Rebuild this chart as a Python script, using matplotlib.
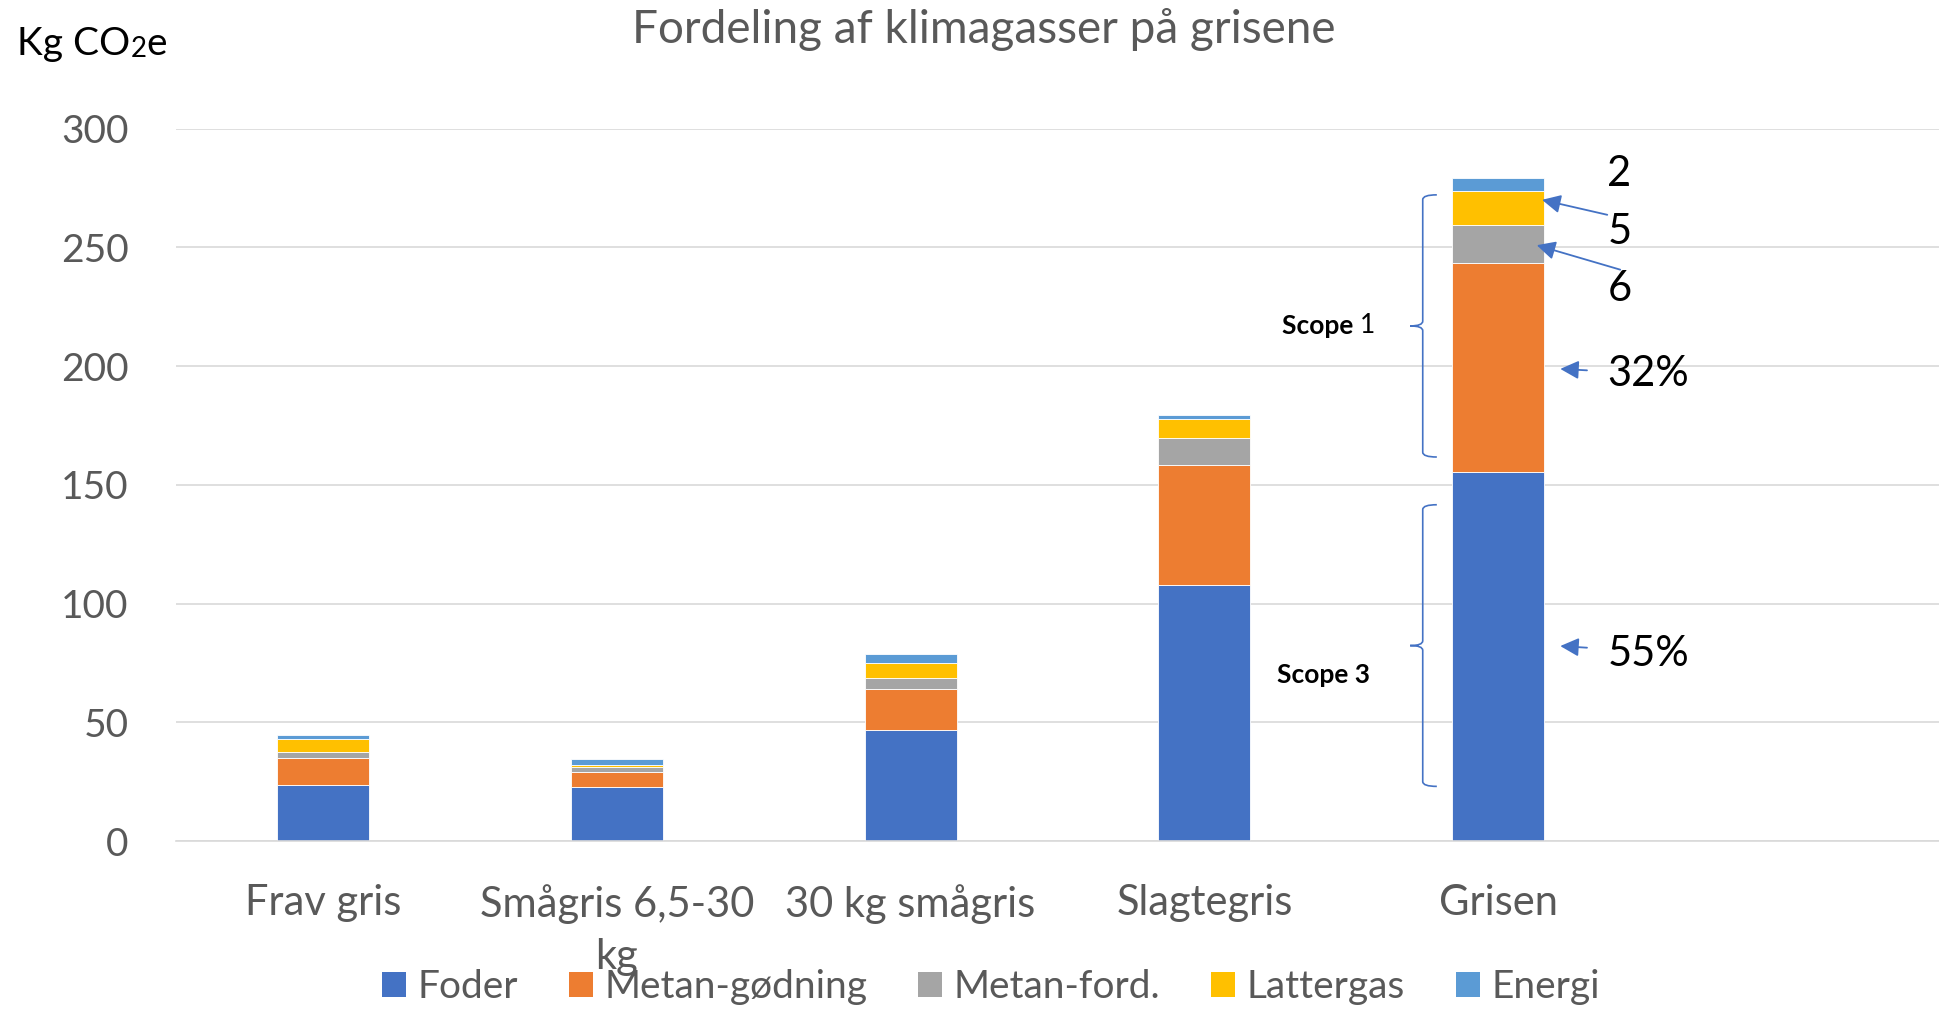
import numpy as np
import matplotlib
matplotlib.use('Agg')
import matplotlib.pyplot as plt
from matplotlib.path import Path
from matplotlib.patches import PathPatch, Patch

plt.rcParams['font.family'] = ['Lato', 'DejaVu Sans']

# data (kg CO2e per gris)
categories = ['Frav gris', 'Smågris 6,5-30\nkg', '30 kg smågris', 'Slagtegris', 'Grisen']
series_names = ['Foder', 'Metan-gødning', 'Metan-ford.', 'Lattergas', 'Energi']
foder = [23.7, 22.8, 46.6, 107.9, 155.2]
metan_godning = [11.2, 6.4, 17.5, 50.3, 88.1]
metan_ford = [2.4, 1.9, 4.5, 11.7, 16.1]
lattergas = [5.6, 0.9, 6.3, 8.0, 14.2]
energi = [1.6, 2.4, 4.0, 1.6, 5.5]
colors = ['#4472C4', '#ED7D31', '#A5A5A5', '#FFC000', '#5B9BD5']

yticks = [0, 50, 100, 150, 200, 250, 300]

# annotations on "Grisen"
note_labels = ['2', '5', '6', '32%', '55%']
note_y = [281.0, 256.5, 232.5, 196.5, 78.7]
arrow_tail = [(4.371, 263.7), (4.415, 240.6), (4.302, 198.2), (4.302, 81.4)]
arrow_head = [(4.149, 270.0), (4.131, 250.9), (4.211, 198.8), (4.211, 82.1)]
scope_labels = ['Scope 1', 'Scope 3']
scope_span = [(161.7, 272.1), (23.0, 141.6)]

GRAY = '#595959'
GRID = '#D9D9D9'
FS = 28

fig = plt.figure(figsize=(19.39, 10.15), dpi=100)
ax = fig.add_axes([176 / 1939, 1 - 841 / 1015, 1 - 176 / 1939, (841 - 128.6) / 1015])

x = np.arange(len(categories))
bottom = np.zeros(len(categories))
for name, vals, c in zip(series_names, [foder, metan_godning, metan_ford, lattergas, energi], colors):
    ax.bar(x, vals, width=0.313, bottom=bottom, color=c, edgecolor='white', linewidth=0.6, label=name, zorder=2)
    bottom += np.array(vals)

ax.set_xlim(-0.5, 5.5)
ax.set_ylim(0, 300)
ax.set_yticks(yticks)
ax.set_xticks(x)
ax.set_xticklabels(categories, linespacing=1.45)
ax.tick_params(axis='y', length=0, pad=34, labelsize=FS, labelcolor=GRAY)
ax.tick_params(axis='x', length=0, pad=31, labelsize=30, labelcolor=GRAY)
for t in ax.get_xticklabels():
    t.set_verticalalignment('top')
ax.grid(axis='y', color=GRID, linewidth=1.2)
ax.set_axisbelow(True)
for s in ['top', 'right', 'left']:
    ax.spines[s].set_visible(False)
ax.spines['bottom'].set_color(GRID)
ax.spines['bottom'].set_linewidth(1.2)

# title and unit label
fig.text(984 / 1939, 1 - 29 / 1015, 'Fordeling af klimagasser på grisene', ha='center', va='center',
         fontsize=33, color=GRAY)
t1 = fig.text(17 / 1939, 1 - 55 / 1015, 'Kg CO', ha='left', va='baseline', fontsize=FS, color='black')
t2 = ax.annotate('2', xy=(1, 0), xycoords=t1, ha='left', va='bottom', fontsize=20, color='black',
                 annotation_clip=False)
ax.annotate('e', xy=(1, 0), xycoords=(t2, t1), ha='left', va='bottom', fontsize=FS, color='black',
            annotation_clip=False)

# percentage notes and arrows
for lab, y in zip(note_labels, note_y):
    ax.text(4.371, y, lab, ha='left', va='center', fontsize=30, color='black')
for tail, head in zip(arrow_tail, arrow_head):
    ax.annotate('', xy=head, xytext=tail,
                arrowprops=dict(arrowstyle='-|>', color='#4472C4', lw=1.3, mutation_scale=28,
                                shrinkA=0, shrinkB=0))


def brace(ax, xv, y0, y1, dx_end=0.048, dx_mid=0.043, r=2.0):
    ym = (y0 + y1) / 2
    verts = [(xv + dx_end, y1), (xv, y1), (xv, y1 - r),
             (xv, ym + r), (xv, ym), (xv - dx_mid, ym),
             (xv, ym), (xv, ym - r),
             (xv, y0 + r), (xv, y0), (xv + dx_end, y0)]
    codes = [Path.MOVETO, Path.CURVE3, Path.CURVE3,
             Path.LINETO, Path.CURVE3, Path.CURVE3,
             Path.CURVE3, Path.CURVE3,
             Path.LINETO, Path.CURVE3, Path.CURVE3]
    ax.add_patch(PathPatch(Path(verts, codes), fill=False, edgecolor='#4472C4', lw=1.2, zorder=3))


for lab, (y0, y1) in zip(scope_labels, scope_span):
    brace(ax, 3.743, y0, y1)
ts = ax.text(3.263, 216.9, 'Scope ', ha='left', va='center', fontsize=19, fontweight='bold', color='black')
ax.annotate('1', xy=(1, 0.5), xycoords=ts, ha='left', va='center', fontsize=19, color='black')
ax.text(3.247, 70.0, scope_labels[1], ha='left', va='center', fontsize=19, fontweight='bold', color='black')

handles = [Patch(facecolor=c, edgecolor='none') for c in colors]
leg = fig.legend(handles, series_names, loc='center', bbox_to_anchor=(991 / 1939, 1 - 987 / 1015), ncol=5,
                 frameon=False, fontsize=FS, handlelength=0.62, handleheight=0.62, handletextpad=0.3,
                 columnspacing=1.3, borderpad=0)
for t in leg.get_texts():
    t.set_color(GRAY)

fig.savefig('out.png', dpi=100)
